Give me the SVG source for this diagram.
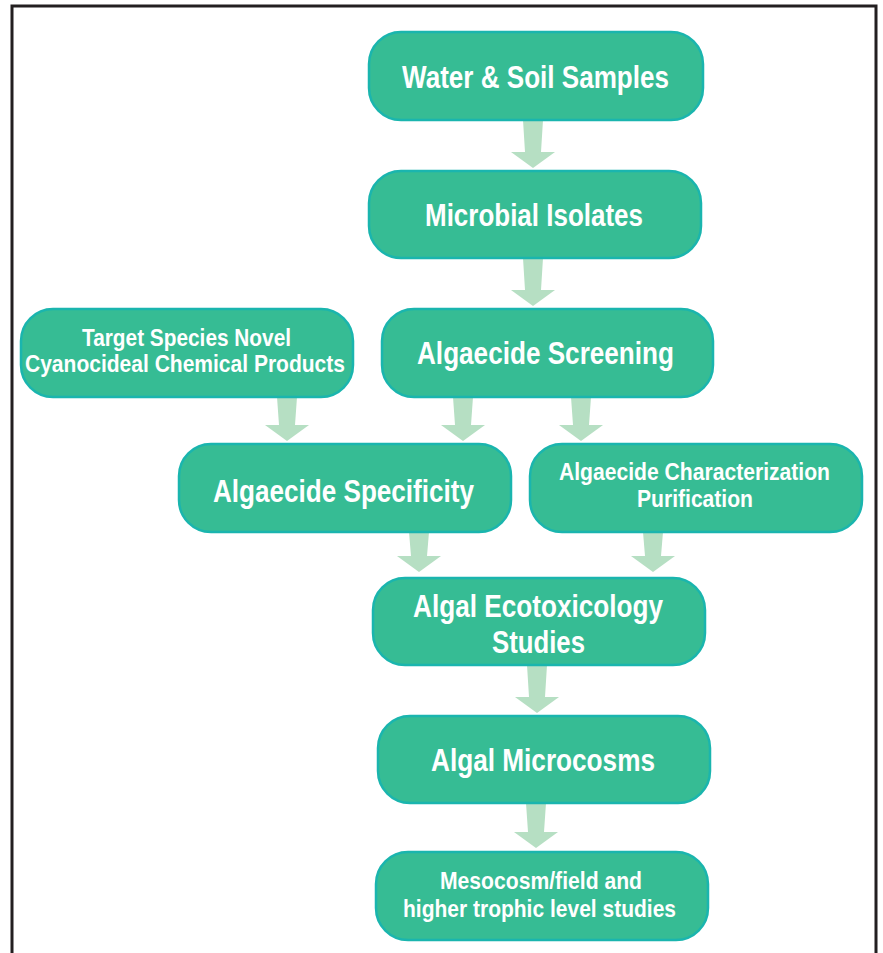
<svg xmlns="http://www.w3.org/2000/svg" width="883" height="953" viewBox="0 0 883 953">
<style>
.box{fill:#36BC94;stroke:#1AB5AE;stroke-width:2.5}
.t{font-family:"Liberation Sans",Arial,sans-serif;font-weight:bold;fill:#FFFFFF;text-anchor:middle}
.big{font-size:30.5px}
.sm{font-size:24px}
.arr{fill:#B6DFC3}
</style>
<rect x="0" y="0" width="883" height="953" fill="#FFFFFF"/>
<path d="M12,953 V6 H876 V953" fill="none" stroke="#231F20" stroke-width="3"/>
<g id="connectors">
<polygon class="arr" points="523,120 543,120 541,152 555,152 533,168 511,152 525,152"/>
<polygon class="arr" points="523,258 543,258 541,290 555,290 533,306 511,290 525,290"/>
<polygon class="arr" points="277,397 297,397 295,425 309,425 287,441 265,425 279,425"/>
<polygon class="arr" points="453,397 473,397 471,425 485,425 463,441 441,425 455,425"/>
<polygon class="arr" points="571,397 591,397 589,425 603,425 581,441 559,425 573,425"/>
<polygon class="arr" points="409,532 429,532 427,556 441,556 419,572 397,556 411,556"/>
<polygon class="arr" points="643,532 663,532 661,556 675,556 653,572 631,556 645,556"/>
<polygon class="arr" points="527,665 547,665 545,697 559,697 537,713 515,697 529,697"/>
<polygon class="arr" points="526,803 546,803 544,832 558,832 536,848 514,832 528,832"/>
</g>
<g id="n1"><rect class="box" x="369" y="32" width="334" height="88" rx="32"/><text class="t big" x="535.5" y="88" textLength="267" lengthAdjust="spacingAndGlyphs">Water &amp; Soil Samples</text></g>
<g id="n2"><rect class="box" x="369" y="171" width="332" height="87" rx="32"/><text class="t big" x="534" y="226" textLength="218" lengthAdjust="spacingAndGlyphs">Microbial Isolates</text></g>
<g id="n3"><rect class="box" x="21" y="309" width="332" height="88" rx="32"/><text class="t sm" x="186.5" y="346" textLength="209" lengthAdjust="spacingAndGlyphs">Target Species Novel</text><text class="t sm" x="185" y="372" textLength="320" lengthAdjust="spacingAndGlyphs">Cyanocideal Chemical Products</text></g>
<g id="n4"><rect class="box" x="382" y="309" width="331" height="88" rx="32"/><text class="t big" x="545.5" y="364" textLength="257" lengthAdjust="spacingAndGlyphs">Algaecide Screening</text></g>
<g id="n5"><rect class="box" x="179" y="444" width="332" height="88" rx="32"/><text class="t big" x="343.5" y="502" textLength="261" lengthAdjust="spacingAndGlyphs">Algaecide Specificity</text></g>
<g id="n6"><rect class="box" x="530" y="444" width="332" height="88" rx="32"/><text class="t sm" x="694.5" y="480" textLength="271" lengthAdjust="spacingAndGlyphs">Algaecide Characterization</text><text class="t sm" x="695" y="507" textLength="116" lengthAdjust="spacingAndGlyphs">Purification</text></g>
<g id="n7"><rect class="box" x="373" y="578" width="332" height="87" rx="32"/><text class="t big" x="538" y="617" textLength="250" lengthAdjust="spacingAndGlyphs">Algal Ecotoxicology</text><text class="t big" x="538.5" y="653" textLength="93" lengthAdjust="spacingAndGlyphs">Studies</text></g>
<g id="n8"><rect class="box" x="378" y="716" width="332" height="87" rx="32"/><text class="t big" x="543" y="771" textLength="224" lengthAdjust="spacingAndGlyphs">Algal Microcosms</text></g>
<g id="n9"><rect class="box" x="376" y="852" width="332" height="88" rx="32"/><text class="t sm" x="541" y="889" textLength="202" lengthAdjust="spacingAndGlyphs">Mesocosm/field and</text><text class="t sm" x="539.5" y="917" textLength="273" lengthAdjust="spacingAndGlyphs">higher trophic level studies</text></g>
</svg>
